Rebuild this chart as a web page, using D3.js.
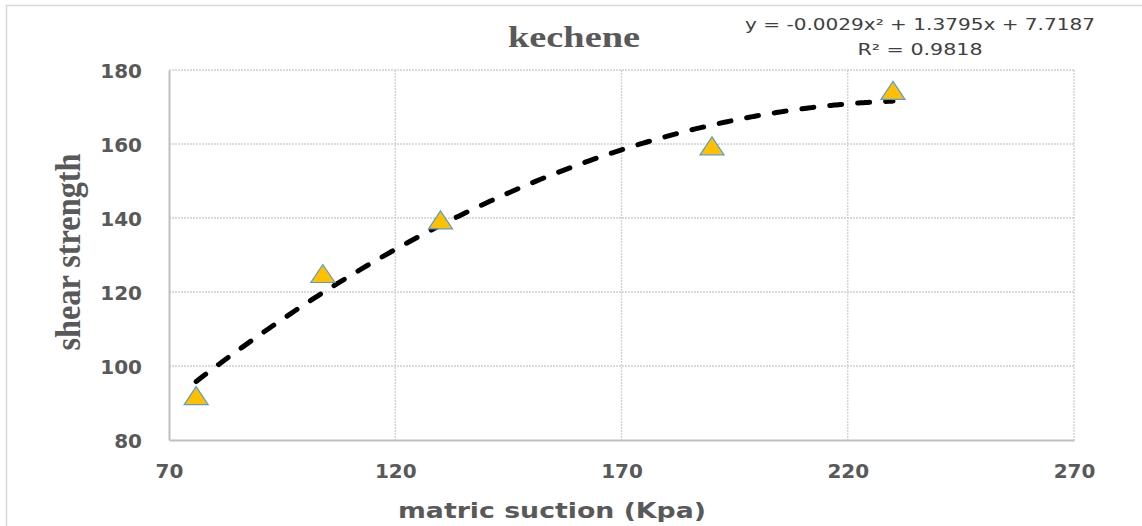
<!DOCTYPE html>
<html>
<head>
<meta charset="utf-8">
<script src="https://cdn.jsdelivr.net/npm/d3@7"></script>
<style>
  body { margin: 0; background: #fff; }
  svg { display: block; }
</style>
</head>
<body>
<script>
// data
var suction = [76, 104, 130, 190, 230];
var strength = [92, 125, 139.5, 159.5, 174.5];
var xTicks = [70, 120, 170, 220, 270];
var yTicks = [80, 100, 120, 140, 160, 180];
// trendline coefficients printed on the chart (a x^2 + b x + c)
var trendCoef = [-0.0029, 1.3795, 7.7187];
var eqLines = ["y = -0.0029x² + 1.3795x + 7.7187", "R² = 0.9818"];

var W = 1142, H = 526;
var margin = {top: 70, right: 68, bottom: 86, left: 169};
var width = W - margin.left - margin.right,
    height = H - margin.top - margin.bottom;

var svg = d3.select("body").append("svg")
    .attr("width", W)
    .attr("height", H);

// outer chart frame
svg.append("rect")
    .attr("x", 6.5).attr("y", 5.5)
    .attr("width", W + 10).attr("height", H + 10)
    .attr("fill", "none")
    .attr("stroke", "#d9d9d9")
    .attr("stroke-width", 1.5);

var x = d3.scaleLinear().domain([70, 270]).range([0, width]);
var y = d3.scaleLinear().domain([80, 180]).range([height, 0]);

var g = svg.append("g")
    .attr("transform", "translate(" + margin.left + "," + margin.top + ")");

// grid
g.append("g").selectAll("line.h")
    .data(yTicks.filter(function(d) { return d > 80; }))
  .enter().append("line")
    .attr("x1", 0).attr("x2", width)
    .attr("y1", function(d) { return y(d); })
    .attr("y2", function(d) { return y(d); })
    .attr("stroke", "#d0d0d0")
    .attr("stroke-width", 1.3)
    .attr("stroke-dasharray", "2,1");

g.append("g").selectAll("line.v")
    .data(xTicks.filter(function(d) { return d > 70; }))
  .enter().append("line")
    .attr("y1", 0).attr("y2", height)
    .attr("x1", function(d) { return x(d); })
    .attr("x2", function(d) { return x(d); })
    .attr("stroke", "#d0d0d0")
    .attr("stroke-width", 1.3)
    .attr("stroke-dasharray", "2,1");

// axes
var xAxis = d3.axisBottom(x).tickValues(xTicks).tickSize(0).tickPadding(24);
var yAxis = d3.axisLeft(y).tickValues(yTicks).tickSize(0).tickPadding(27);

var gx = g.append("g")
    .attr("transform", "translate(0," + height + ")")
    .call(xAxis);
var gy = g.append("g").call(yAxis);

[gx, gy].forEach(function(a) {
    a.select(".domain").attr("stroke", "#bfbfbf").attr("stroke-width", 2);
    a.selectAll("text")
        .attr("fill", "#595959")
        .style("font-family", "'DejaVu Sans', Verdana, sans-serif")
        .style("font-weight", "bold")
        .style("font-size", "20px");
});
gy.selectAll("text").attr("dy", "0.36em");
gx.selectAll("text").attr("dy", "0.72em");

// trendline
var trendX = d3.range(d3.min(suction), d3.max(suction) + 0.5, 1);
var line = d3.line()
    .x(function(d) { return x(d); })
    .y(function(d) { return y(trendCoef[0] * d * d + trendCoef[1] * d + trendCoef[2]); })
    .curve(d3.curveBasis);

g.append("path")
    .datum(trendX)
    .attr("d", line)
    .attr("fill", "none")
    .attr("stroke", "#000")
    .attr("stroke-width", 5)
    .attr("stroke-linecap", "round")
    .attr("stroke-dasharray", "12,16");

// markers (wide triangles like the spreadsheet ones)
var triPath = "M0,-9L12,9L-12,9Z";
g.selectAll("path.pt")
    .data(suction)
  .enter().append("path")
    .attr("class", "pt")
    .attr("d", triPath)
    .attr("transform", function(d, i) {
        return "translate(" + x(d) + "," + y(strength[i]) + ")";
    })
    .attr("fill", "#ffc000")
    .attr("stroke", "#5b9bd5")
    .attr("stroke-width", 1.2);

// title
svg.append("text")
    .attr("x", 574).attr("y", 47)
    .attr("text-anchor", "middle")
    .attr("fill", "#595959")
    .attr("textLength", 132)
    .attr("lengthAdjust", "spacingAndGlyphs")
    .style("font-family", "'Liberation Serif', 'Times New Roman', serif")
    .style("font-weight", "bold")
    .style("font-size", "30px")
    .text("kechene");

// y label
svg.append("text")
    .attr("transform", "translate(80,252) rotate(-90)")
    .attr("text-anchor", "middle")
    .attr("fill", "#595959")
    .attr("textLength", 197)
    .attr("lengthAdjust", "spacingAndGlyphs")
    .style("font-family", "'Liberation Serif', 'Times New Roman', serif")
    .style("font-weight", "bold")
    .style("font-size", "35px")
    .text("shear strength");

// x label
svg.append("text")
    .attr("x", 552).attr("y", 518)
    .attr("text-anchor", "middle")
    .attr("fill", "#595959")
    .attr("textLength", 308)
    .attr("lengthAdjust", "spacingAndGlyphs")
    .style("font-family", "'DejaVu Sans', Verdana, sans-serif")
    .style("font-weight", "bold")
    .style("font-size", "22px")
    .text("matric suction (Kpa)");

// trendline equation
svg.selectAll("text.eq")
    .data(eqLines)
  .enter().append("text")
    .attr("class", "eq")
    .attr("x", 920)
    .attr("y", function(d, i) { return 30 + i * 25; })
    .attr("text-anchor", "middle")
    .attr("fill", "#404040")
    .attr("textLength", function(d, i) { return i === 0 ? 350 : 125; })
    .attr("lengthAdjust", "spacingAndGlyphs")
    .style("font-family", "'DejaVu Sans', Verdana, sans-serif")
    .style("font-size", "16px")
    .text(function(d) { return d; });
</script>
</body>
</html>
